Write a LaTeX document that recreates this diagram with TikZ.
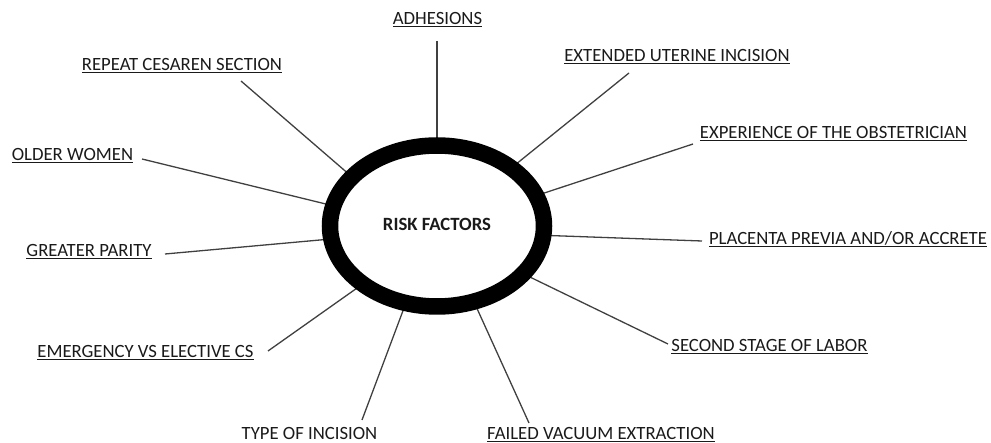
\documentclass[tikz,border=0pt]{standalone}
\usepackage{fontspec}
\setmainfont{Carlito}
\usetikzlibrary{shapes.geometric,backgrounds}

\definecolor{inkgray}{HTML}{1A1A1A}
\definecolor{linegray}{HTML}{404040}

% text with a rule set just under the baseline
\newcommand{\ulabel}[1]{\setbox0=\hbox{#1}\rlap{\rule[-2.4pt]{\wd0}{1.3pt}}\box0}

\tikzset{
  factor/.style={anchor=base, inner sep=0pt, text=inkgray,
    font=\fontsize{18.7}{22}\selectfont},
  hub/.style={ellipse, draw=black, line width=16.5pt, fill=white,
    minimum width=214pt, minimum height=161pt, inner sep=0pt, outer sep=0pt,
    font=\fontsize{18.7}{22}\selectfont\bfseries, text=inkgray},
  conn/.style={draw=linegray, line width=1.3pt}
}

\begin{document}
\begin{tikzpicture}[x=1pt,y=-1pt]
  \useasboundingbox (0,0) rectangle (991,443);

  % central ring
  \node[hub] (rf) at (437,226) {\raisebox{3pt}{RISK FACTORS}};

  % factor labels
  \node[factor] (adh) at (437.5,25)  {\ulabel{ADHESIONS}};
  \node[factor] (rep) at (182,71)    {\ulabel{REPEAT CESAREN SECTION}};
  \node[factor] (ext) at (677,62)    {\ulabel{EXTENDED UTERINE INCISION}};
  \node[factor] (exp) at (833.5,139) {\ulabel{EXPERIENCE OF THE OBSTETRICIAN}};
  \node[factor] (old) at (72.5,161)  {\ulabel{OLDER WOMEN}};
  \node[factor] (gre) at (89,257)    {\ulabel{GREATER PARITY}};
  \node[factor] (pla) at (848,245)   {\ulabel{PLACENTA PREVIA AND/OR ACCRETE}};
  \node[factor] (sec) at (769.5,352) {\ulabel{SECOND STAGE OF LABOR}};
  \node[factor] (eme) at (145.5,358) {\ulabel{EMERGENCY VS ELECTIVE CS}};
  \node[factor] (typ) at (309.5,439.5) {TYPE OF INCISION};
  \node[factor] (fai) at (601,439.5) {\ulabel{FAILED VACUUM EXTRACTION}};

  % outer ends of the spokes, just off each label
  \coordinate (adh-e) at (437,41);
  \coordinate (rep-e) at (241,81);
  \coordinate (ext-e) at (629,73);
  \coordinate (exp-e) at (693,144);
  \coordinate (old-e) at (142,159);
  \coordinate (gre-e) at (165,254);
  \coordinate (pla-e) at (702,241);
  \coordinate (sec-e) at (668,344);
  \coordinate (eme-e) at (268,351);
  \coordinate (typ-e) at (362,420);
  \coordinate (fai-e) at (529,423);

  % spokes run under the ring
  \begin{scope}[on background layer]
    \draw[conn] (adh-e) -- (rf.90);
    \draw[conn] (rep-e) -- (rf.150);
    \draw[conn] (ext-e) -- (rf.38.5);
    \draw[conn] (exp-e) -- (rf.17.5);
    \draw[conn] (old-e) -- (rf.169);
    \draw[conn] (gre-e) -- (rf.187);
    \draw[conn] (pla-e) -- (rf.-5.4);
    \draw[conn] (sec-e) -- (rf.-29.6);
    \draw[conn] (eme-e) -- (rf.-142.7);
    \draw[conn] (typ-e) -- (rf.-112);
    \draw[conn] (fai-e) -- (rf.-64);
  \end{scope}
\end{tikzpicture}
\end{document}
